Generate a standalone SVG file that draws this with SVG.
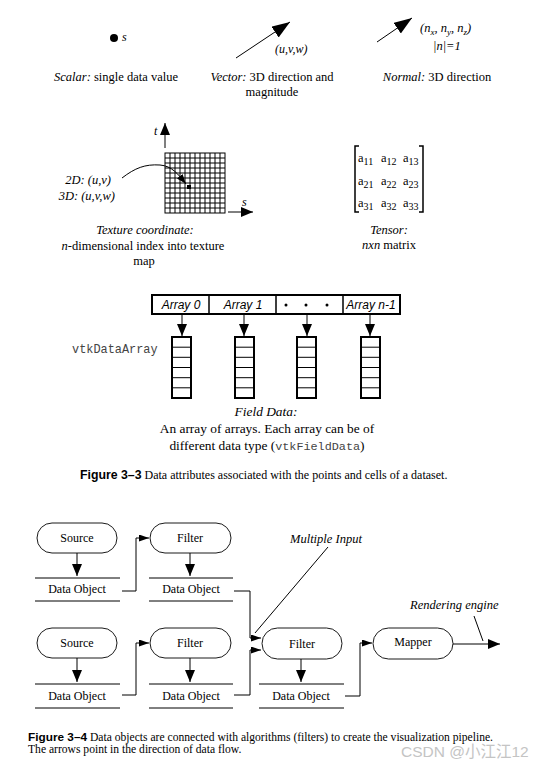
<svg xmlns="http://www.w3.org/2000/svg" width="549" height="766" viewBox="0 0 549 766">
<style>
.s{font-family:"Liberation Serif","Times New Roman",serif;font-size:12.5px;fill:#000}
.i{font-style:italic}
.c{text-anchor:middle}
.sm{font-size:12px}
.fd{font-size:13.4px}
.cap{font-family:"Liberation Serif","Times New Roman",serif;font-size:12px;fill:#000}
.cap2{font-family:"Liberation Serif","Times New Roman",serif;font-size:11.6px;fill:#000}
.fb{font-family:"Liberation Sans",Arial,sans-serif;font-weight:bold;font-size:12.3px}
.fb2{font-family:"Liberation Sans",Arial,sans-serif;font-weight:bold;font-size:11.8px}
.as{font-family:"Liberation Sans",Arial,sans-serif;font-style:italic;font-size:12px;text-anchor:middle}
.mono{font-family:"Liberation Mono","Courier New",monospace;font-size:11.9px;fill:#444}
.ln{stroke:#000;stroke-width:1;fill:none}
.pill{fill:#fff;stroke:#000;stroke-width:0.9}
.thick{fill:#fff;stroke:#000;stroke-width:2}
</style>
<defs>
<marker id="ah" markerUnits="userSpaceOnUse" markerWidth="14" markerHeight="12" refX="12" refY="5" orient="auto"><path d="M0,0 L12,5 L0,10 Z" fill="#000"/></marker>
<marker id="ahs" markerUnits="userSpaceOnUse" markerWidth="12" markerHeight="8" refX="10" refY="3.5" orient="auto"><path d="M0,0 L10,3.5 L0,7 Z" fill="#000"/></marker>
<marker id="ahb" markerUnits="userSpaceOnUse" markerWidth="20" markerHeight="16" refX="18" refY="6.5" orient="auto"><path d="M0,0 L18,6.5 L0,13 Z" fill="#000"/></marker>
</defs>

<!-- Figure 3-3 -->
<g id="scalar">
<circle cx="114" cy="38" r="4" fill="#000"/>
<text class="s i sm" x="122" y="41">s</text>
<text class="s c" x="116" y="81"><tspan class="i">Scalar:</tspan> single data value</text>
</g>
<g id="vector">
<line class="ln" x1="236" y1="58" x2="290" y2="22" marker-end="url(#ahb)"/>
<text class="s i sm" x="275" y="53">(u,v,w)</text>
<text class="s c" x="272" y="81"><tspan class="i">Vector:</tspan> 3D direction and</text>
<text class="s c" x="272" y="96">magnitude</text>
</g>
<g id="normal">
<line class="ln" x1="377" y1="42" x2="412" y2="18" marker-end="url(#ahb)"/>
<text class="s i" x="420" y="32">(n<tspan font-size="9" dy="3">x</tspan><tspan dy="-3">, n</tspan><tspan font-size="9" dy="3">y</tspan><tspan dy="-3">, n</tspan><tspan font-size="9" dy="3">z</tspan><tspan dy="-3">)</tspan></text>
<text class="s i" x="433" y="50">|n|=1</text>
<text class="s c" x="437" y="81"><tspan class="i">Normal:</tspan> 3D direction</text>
</g>
<g id="texture">
<line class="ln" x1="165" y1="148" x2="165" y2="123" marker-end="url(#ah)"/>
<text class="s i sm" x="154" y="135">t</text>
<rect x="165" y="153" width="60" height="60" fill="#fff" stroke="#000" stroke-width="1"/>
<path class="ln" d="M170,153V213M175,153V213M180,153V213M185,153V213M190,153V213M195,153V213M200,153V213M205,153V213M210,153V213M215,153V213M220,153V213M165,158H225M165,163H225M165,168H225M165,173H225M165,178H225M165,183H225M165,188H225M165,193H225M165,198H225M165,203H225M165,208H225"/>
<rect x="187" y="185" width="4" height="4" fill="#000"/>
<path class="ln" d="M122,178 C135,168 145,164 160,165 C172,166 178,174 186,184" marker-end="url(#ahs)"/>
<line class="ln" x1="228" y1="212" x2="253" y2="212" marker-end="url(#ah)"/>
<text class="s i sm" x="242" y="206">s</text>
<text class="s i" font-size="13" x="111" y="184" text-anchor="end">2D: (u,v)</text>
<text class="s i" font-size="13" x="115" y="200" text-anchor="end">3D: (u,v,w)</text>
<text class="s i c" font-size="13" x="145" y="234">Texture coordinate:</text>
<text class="s c" font-size="13" x="143" y="250"><tspan class="i">n</tspan>-dimensional index into texture</text>
<text class="s c" font-size="13" x="144" y="265">map</text>
</g>
<g id="tensor">
<path d="M359,146H355V212H359M419,146H423V212H419" fill="none" stroke="#000" stroke-width="1.5"/>
<text class="s" font-size="12.5" x="358" y="162">a<tspan font-size="10" dy="3">11</tspan></text>
<text class="s" font-size="12.5" x="381" y="162">a<tspan font-size="10" dy="3">12</tspan></text>
<text class="s" font-size="12.5" x="403" y="162">a<tspan font-size="10" dy="3">13</tspan></text>
<text class="s" font-size="12.5" x="358" y="185">a<tspan font-size="10" dy="3">21</tspan></text>
<text class="s" font-size="12.5" x="381" y="185">a<tspan font-size="10" dy="3">22</tspan></text>
<text class="s" font-size="12.5" x="403" y="185">a<tspan font-size="10" dy="3">23</tspan></text>
<text class="s" font-size="12.5" x="358" y="207">a<tspan font-size="10" dy="3">31</tspan></text>
<text class="s" font-size="12.5" x="381" y="207">a<tspan font-size="10" dy="3">32</tspan></text>
<text class="s" font-size="12.5" x="403" y="207">a<tspan font-size="10" dy="3">33</tspan></text>
<text class="s i c" font-size="13" x="389" y="234">Tensor:</text>
<text class="s c" font-size="13" x="389" y="249"><tspan class="i">nxn</tspan> matrix</text>
</g>
<g id="fielddata">
<rect class="thick" x="152" y="295" width="248" height="19"/>
<path d="M209,295V314M276,295V314M343,295V314" stroke="#000" stroke-width="1.5"/>
<text class="as" x="181" y="309">Array 0</text>
<text class="as" x="243" y="309">Array 1</text>
<circle cx="286" cy="305" r="1.5" fill="#000"/>
<circle cx="306" cy="305" r="1.5" fill="#000"/>
<circle cx="327" cy="305" r="1.5" fill="#000"/>
<text class="as" x="371" y="309">Array n-1</text>
<text class="mono" x="72" y="353">vtkDataArray</text>
<g class="col">
<rect class="thick" x="172" y="337" width="19" height="61"/>
<path class="ln" d="M172,347.2H191M172,357.3H191M172,367.5H191M172,377.7H191M172,387.8H191"/>
<rect class="thick" x="235" y="337" width="19" height="61"/>
<path class="ln" d="M235,347.2H254M235,357.3H254M235,367.5H254M235,377.7H254M235,387.8H254"/>
<rect class="thick" x="297" y="337" width="19" height="61"/>
<path class="ln" d="M297,347.2H316M297,357.3H316M297,367.5H316M297,377.7H316M297,387.8H316"/>
<rect class="thick" x="361" y="337" width="19" height="61"/>
<path class="ln" d="M361,347.2H380M361,357.3H380M361,367.5H380M361,377.7H380M361,387.8H380"/>
</g>
<text class="s i c fd" x="266" y="416">Field Data:</text>
<text class="s c fd" x="267" y="433">An array of arrays. Each array can be of</text>
<text class="s c fd" x="267" y="450">different data type (<tspan font-family="Liberation Mono,Courier New,monospace" font-size="11.8" fill="#444">vtkFieldData</tspan>)</text>
</g>
<g id="connectors-fd">
<line class="ln" x1="182" y1="314" x2="182" y2="336" marker-end="url(#ah)"/>
<line class="ln" x1="244" y1="314" x2="244" y2="336" marker-end="url(#ah)"/>
<line class="ln" x1="307" y1="314" x2="307" y2="336" marker-end="url(#ah)"/>
<line class="ln" x1="370" y1="314" x2="370" y2="336" marker-end="url(#ah)"/>
</g>
<text class="cap" x="80" y="479"><tspan class="fb">Figure 3–3</tspan>  Data attributes associated with the points and cells of a dataset.</text>

<!-- Figure 3-4 -->
<g id="source1">
<rect class="pill" x="37" y="523" width="80" height="30" rx="15"/>
<text class="s c sm" x="77" y="542">Source</text>
</g>
<g id="do1">
<path class="ln" d="M35,578H120M35,601H120"/>
<text class="s c sm" x="77" y="593">Data Object</text>
</g>
<g id="filter1">
<rect class="pill" x="150" y="523" width="81" height="30" rx="15"/>
<text class="s c sm" x="190" y="542">Filter</text>
</g>
<g id="do2">
<path class="ln" d="M149,578H233M149,601H233"/>
<text class="s c sm" x="191" y="593">Data Object</text>
</g>
<g id="source2">
<rect class="pill" x="37" y="628" width="80" height="30" rx="15"/>
<text class="s c sm" x="77" y="647">Source</text>
</g>
<g id="do3">
<path class="ln" d="M35,684H120M35,708H120"/>
<text class="s c sm" x="77" y="700">Data Object</text>
</g>
<g id="filter2">
<rect class="pill" x="150" y="628" width="81" height="30" rx="15"/>
<text class="s c sm" x="190" y="647">Filter</text>
</g>
<g id="do4">
<path class="ln" d="M149,684H233M149,708H233"/>
<text class="s c sm" x="191" y="700">Data Object</text>
</g>
<g id="filter3">
<rect class="pill" x="262" y="628" width="80" height="31" rx="15.5"/>
<text class="s c sm" x="302" y="648">Filter</text>
</g>
<g id="do5">
<path class="ln" d="M259,684H344M259,708H344"/>
<text class="s c sm" x="301" y="700">Data Object</text>
</g>
<g id="mapper">
<rect class="pill" x="373" y="628" width="80" height="31" rx="15.5"/>
<text class="s c sm" x="413" y="646">Mapper</text>
</g>
<g id="labels">
<text class="s i" font-size="10.5" x="290" y="543">Multiple Input</text>
<text class="s i" font-size="10.5" x="410" y="609">Rendering engine</text>
</g>
<g id="connectors">
<line class="ln" x1="77" y1="553" x2="77" y2="576" marker-end="url(#ah)"/>
<line class="ln" x1="190" y1="553" x2="190" y2="576" marker-end="url(#ah)"/>
<line class="ln" x1="77" y1="658" x2="77" y2="682" marker-end="url(#ah)"/>
<line class="ln" x1="190" y1="658" x2="190" y2="682" marker-end="url(#ah)"/>
<line class="ln" x1="301" y1="659" x2="301" y2="682" marker-end="url(#ah)"/>
<path class="ln" d="M122,591H136V538H149" marker-end="url(#ahs)"/>
<path class="ln" d="M234,591H250V638H261" marker-end="url(#ahs)"/>
<path class="ln" d="M122,695H136V643H149" marker-end="url(#ahs)"/>
<path class="ln" d="M234,695H250V650H261" marker-end="url(#ahs)"/>
<path class="ln" d="M345,696H360V643H372" marker-end="url(#ahs)"/>
<line class="ln" x1="453" y1="644" x2="500" y2="644" marker-end="url(#ah)"/>
<line class="ln" stroke-width="0.7" x1="328" y1="547" x2="255" y2="633"/>
<line class="ln" stroke-width="0.7" x1="474" y1="616" x2="483" y2="641"/>
</g>
<text class="cap2" x="28" y="741"><tspan class="fb2">Figure 3–4</tspan>  Data objects are connected with algorithms (filters) to create the visualization pipeline.</text>
<text class="cap2" x="28" y="753">The arrows point in the direction of data flow.</text>
<text x="401" y="757" font-family="Liberation Sans,Noto Sans CJK SC,sans-serif" font-size="15.5" fill="#c4c4c4">CSDN @小江江12</text>
</svg>
